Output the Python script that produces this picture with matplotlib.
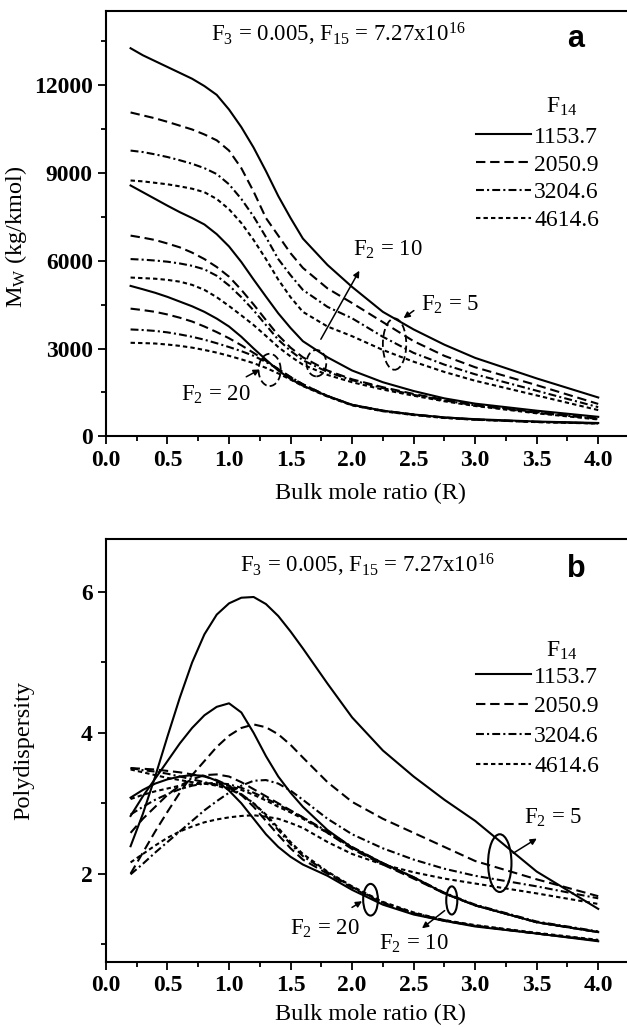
import numpy as np
import matplotlib.pyplot as plt
from matplotlib.patches import Ellipse

plt.rcParams['font.family'] = 'Liberation Serif'
plt.rcParams['mathtext.fontset'] = 'custom'
plt.rcParams['mathtext.rm'] = 'Liberation Serif'
plt.rcParams['mathtext.it'] = 'Liberation Serif:italic'
plt.rcParams['mathtext.bf'] = 'Liberation Serif:bold'

# bulk mole ratio R
r = [0.2, 0.3, 0.4, 0.5, 0.6, 0.7, 0.8, 0.9, 1.0, 1.1, 1.2, 1.3, 1.4, 1.5, 1.6,
     1.8, 2.0, 2.25, 2.5, 2.75, 3.0, 3.5, 4.0]
f14 = ['1153.7', '2050.9', '3204.6', '4614.6']

# Mw (kg/kmol), one row per F14 value
mw_f2_5 = [
    [13240, 13000, 12800, 12600, 12400, 12200, 11950, 11650, 11150, 10550, 9850, 9050, 8200, 7450, 6750,
     5850, 5100, 4250, 3650, 3130, 2680, 1980, 1330],
    [11050, 10950, 10850, 10730, 10600, 10470, 10300, 10100, 9750, 9150, 8350, 7450, 6850, 6250, 5750,
     5050, 4550, 3900, 3250, 2750, 2360, 1750, 1110],
    [9750, 9700, 9620, 9530, 9420, 9300, 9150, 8950, 8600, 8100, 7500, 6800, 6050, 5500, 5000,
     4420, 4030, 3400, 2850, 2450, 2120, 1560, 1000],
    [8730, 8700, 8650, 8600, 8530, 8450, 8330, 8100, 7750, 7280, 6700, 6050, 5350, 4750, 4250,
     3750, 3420, 2950, 2550, 2200, 1900, 1400, 900],
]
mw_f2_10 = [
    [8560, 8330, 8100, 7870, 7650, 7450, 7230, 6900, 6480, 5950, 5350, 4770, 4200, 3700, 3250,
     2700, 2250, 1850, 1550, 1300, 1120, 880, 670],
    [6850, 6780, 6700, 6580, 6450, 6270, 6050, 5780, 5450, 5000, 4500, 3970, 3450, 3030, 2700,
     2250, 1950, 1680, 1450, 1250, 1080, 830, 620],
    [6050, 6030, 6000, 5960, 5900, 5820, 5700, 5480, 5150, 4750, 4300, 3800, 3300, 2920, 2600,
     2200, 1920, 1650, 1420, 1230, 1060, 810, 600],
    [5420, 5400, 5380, 5340, 5280, 5170, 5000, 4750, 4450, 4130, 3800, 3430, 3050, 2730, 2450,
     2100, 1850, 1600, 1390, 1200, 1040, 790, 580],
]
mw_f2_20 = [
    [5135, 5020, 4900, 4760, 4600, 4440, 4250, 4020, 3750, 3400, 3000, 2620, 2250, 1960, 1730,
     1380, 1080, 880, 750, 650, 590, 510, 460],
    [4360, 4310, 4250, 4160, 4050, 3920, 3750, 3560, 3350, 3110, 2850, 2580, 2300, 2020, 1780,
     1380, 1080, 880, 750, 650, 580, 500, 450],
    [3650, 3630, 3600, 3550, 3480, 3400, 3300, 3180, 3050, 2910, 2750, 2540, 2300, 2030, 1780,
     1380, 1070, 870, 740, 640, 575, 495, 445],
    [3195, 3185, 3170, 3135, 3090, 3030, 2950, 2860, 2750, 2630, 2500, 2340, 2150, 1940, 1720,
     1360, 1060, 860, 730, 630, 570, 490, 440],
]

# polydispersity
pd_f2_5 = [
    [2.39, 2.85, 3.38, 3.95, 4.5, 5.0, 5.4, 5.68, 5.84, 5.92, 5.93, 5.83, 5.66, 5.44, 5.2,
     4.7, 4.22, 3.75, 3.38, 3.05, 2.75, 2.03, 1.5],
    [2.0, 2.3, 2.6, 2.88, 3.15, 3.4, 3.6, 3.8, 3.96, 4.07, 4.12, 4.08, 3.98, 3.83, 3.65,
     3.3, 3.02, 2.78, 2.58, 2.38, 2.18, 1.92, 1.68],
    [1.99, 2.14, 2.3, 2.45, 2.6, 2.75, 2.9, 3.03, 3.15, 3.25, 3.32, 3.33, 3.28, 3.18, 3.05,
     2.78, 2.56, 2.36, 2.2, 2.07, 1.97, 1.82, 1.65],
    [2.16, 2.28, 2.4, 2.51, 2.6, 2.67, 2.73, 2.77, 2.8, 2.82, 2.83, 2.81, 2.78, 2.72, 2.65,
     2.45, 2.28, 2.13, 2.02, 1.93, 1.86, 1.72, 1.57],
]
pd_f2_10 = [
    [2.82, 3.1, 3.35, 3.6, 3.85, 4.07, 4.25, 4.37, 4.42, 4.29, 4.0, 3.67, 3.38, 3.15, 2.95,
     2.62, 2.37, 2.15, 1.95, 1.72, 1.55, 1.31, 1.17],
    [2.58, 2.78, 2.95, 3.12, 3.25, 3.34, 3.4, 3.41, 3.38, 3.3, 3.2, 3.1, 3.0, 2.9, 2.8,
     2.58, 2.35, 2.13, 1.93, 1.72, 1.55, 1.31, 1.17],
    [2.84, 2.95, 3.05, 3.13, 3.2, 3.25, 3.28, 3.29, 3.27, 3.22, 3.15, 3.07, 2.98, 2.89, 2.8,
     2.6, 2.38, 2.15, 1.95, 1.73, 1.56, 1.32, 1.18],
    [3.06, 3.12, 3.17, 3.21, 3.25, 3.27, 3.28, 3.27, 3.25, 3.19, 3.12, 3.04, 2.95, 2.87, 2.78,
     2.58, 2.37, 2.14, 1.94, 1.72, 1.55, 1.31, 1.17],
]
pd_f2_20 = [
    [3.08, 3.19, 3.28, 3.34, 3.38, 3.4, 3.39, 3.32, 3.18, 3.0, 2.78, 2.56, 2.38, 2.24, 2.13,
     1.97, 1.77, 1.56, 1.42, 1.33, 1.25, 1.15, 1.04],
    [3.5, 3.49, 3.48, 3.46, 3.44, 3.41, 3.38, 3.33, 3.25, 3.12, 2.95, 2.75, 2.55, 2.36, 2.2,
     2.0, 1.8, 1.58, 1.43, 1.33, 1.26, 1.15, 1.05],
    [3.5, 3.47, 3.45, 3.42, 3.38, 3.34, 3.3, 3.26, 3.22, 3.13, 3.0, 2.82, 2.62, 2.42, 2.25,
     2.02, 1.81, 1.59, 1.44, 1.34, 1.26, 1.15, 1.05],
    [3.48, 3.44, 3.4, 3.36, 3.33, 3.3, 3.28, 3.25, 3.2, 3.12, 3.0, 2.84, 2.65, 2.45, 2.28,
     2.03, 1.82, 1.6, 1.45, 1.34, 1.27, 1.16, 1.06],
]

styles = ['-', (0, (4.5, 2.3)), (0, (3.8, 1.5, 1, 1.5)), (0, (2.1, 1.5))]
title_txt = r'F$_\mathrm{3}$ = 0.005, F$_\mathrm{15}$ = 7.27x10$^\mathrm{16}$'

fig = plt.figure(figsize=(6.27, 10.27), dpi=100)
ax1 = fig.add_axes([0.169, 0.575, 0.844, 0.414])
ax2 = fig.add_axes([0.169, 0.0636, 0.844, 0.4113])


def style_axes(ax, pad):
    for s in ax.spines.values():
        s.set_linewidth(1.5)
    ax.tick_params(which='both', direction='out', top=False, right=False, width=1.3)
    ax.tick_params(which='major', length=6, labelsize=17)
    ax.tick_params(which='minor', length=3.5)
    ax.set_xlim(0, 4.3)
    ax.set_xticks(np.arange(0, 4.01, 0.5))
    ax.set_xticklabels(['%.1f' % v for v in np.arange(0, 4.01, 0.5)], fontweight='bold')
    ax.set_xticks(np.arange(0.25, 4.3, 0.5), minor=True)
    ax.set_xlabel('Bulk mole ratio (R)', fontsize=17.5, labelpad=pad)


def draw_groups(ax, groups):
    handles = []
    for g in groups:
        for i, ys in enumerate(g):
            ln, = ax.plot(r, ys, color='black', lw=1.5, linestyle=styles[i])
            if len(handles) < 4:
                handles.append(ln)
    return handles


arw = dict(arrowstyle='-|>', color='black', lw=1.1, mutation_scale=9)

# ---- panel a
h = draw_groups(ax1, [mw_f2_5, mw_f2_10, mw_f2_20])
style_axes(ax1, 9)
ax1.set_ylim(0, 14500)
ax1.set_yticks([0, 3000, 6000, 9000, 12000])
ax1.set_yticklabels(['0', '3000', '6000', '9000', '12000'], fontweight='bold')
ax1.set_yticks([1500, 4500, 7500, 10500, 13500], minor=True)
ax1.set_ylabel(r'M$_\mathrm{W}$ (kg/kmol)', fontsize=17.5)
ax1.yaxis.set_label_coords(-0.145, 0.47)
ax1.text(1.89, 13700, title_txt, fontsize=16.5, ha='center', va='center')
ax1.text(3.82, 13550, 'a', fontsize=22, fontweight='bold', family='Liberation Sans',
         ha='center', va='center')
ax1.text(3.70, 11250, r'F$_\mathrm{14}$', fontsize=17, ha='center', va='center')
ax1.legend(h, f14, frameon=False, fontsize=17,
           loc='upper left', bbox_to_anchor=(0.70, 0.73), borderpad=0, borderaxespad=0,
           handlelength=2.3, handletextpad=0.15, labelspacing=0.27)

for c, w, hh in [((1.33, 2270), 0.18, 1100), ((1.71, 2500), 0.16, 900), ((2.345, 3150), 0.19, 1750)]:
    ax1.add_patch(Ellipse(c, w, hh, fill=False, lw=1.3, ls=(0, (4, 2))))
ax1.annotate('', xy=(2.07, 5736), xytext=(1.735, 3233), arrowprops=arw)
ax1.annotate('', xy=(1.27, 2330), xytext=(1.12, 1990), arrowprops=arw)
ax1.annotate('', xy=(2.40, 3980), xytext=(2.52, 4350), arrowprops=arw)
ax1.text(2.29, 6350, r'F$_\mathrm{2}$ = 10', fontsize=16.5, ha='center', va='center')
ax1.text(2.80, 4500, r'F$_\mathrm{2}$ = 5', fontsize=16.5, ha='center', va='center')
ax1.text(0.89, 1420, r'F$_\mathrm{2}$ = 20', fontsize=16.5, ha='center', va='center')

# ---- panel b
h = draw_groups(ax2, [pd_f2_5, pd_f2_10, pd_f2_20])
style_axes(ax2, 6)
ax2.set_ylim(0.75, 6.75)
ax2.set_yticks([2, 4, 6])
ax2.set_yticklabels(['2', '4', '6'], fontweight='bold')
ax2.set_yticks([1, 3, 5], minor=True)
ax2.set_ylabel('Polydispersity', fontsize=17.5)
ax2.yaxis.set_label_coords(-0.135, 0.5)
ax2.text(2.12, 6.38, title_txt, fontsize=16.5, ha='center', va='center')
ax2.text(3.82, 6.33, 'b', fontsize=22, fontweight='bold', family='Liberation Sans',
         ha='center', va='center')
ax2.text(3.70, 5.17, r'F$_\mathrm{14}$', fontsize=17, ha='center', va='center')
ax2.legend(h, f14, frameon=False, fontsize=17,
           loc='upper left', bbox_to_anchor=(0.70, 0.70), borderpad=0, borderaxespad=0,
           handlelength=2.3, handletextpad=0.15, labelspacing=0.35)

for c, w, hh in [((2.15, 1.63), 0.12, 0.45), ((2.81, 1.62), 0.09, 0.40), ((3.2, 2.15), 0.19, 0.82)]:
    ax2.add_patch(Ellipse(c, w, hh, fill=False, lw=1.5))
ax2.annotate('', xy=(2.10, 1.63), xytext=(1.98, 1.50), arrowprops=arw)
ax2.annotate('', xy=(2.55, 1.20), xytext=(2.77, 1.50), arrowprops=arw)
ax2.annotate('', xy=(3.52, 2.52), xytext=(3.29, 2.27), arrowprops=arw)
ax2.text(1.78, 1.22, r'F$_\mathrm{2}$ = 20', fontsize=16.5, ha='center', va='center')
ax2.text(2.50, 1.00, r'F$_\mathrm{2}$ = 10', fontsize=16.5, ha='center', va='center')
ax2.text(3.63, 2.80, r'F$_\mathrm{2}$ = 5', fontsize=16.5, ha='center', va='center')

fig.savefig('out.png', dpi=100)
